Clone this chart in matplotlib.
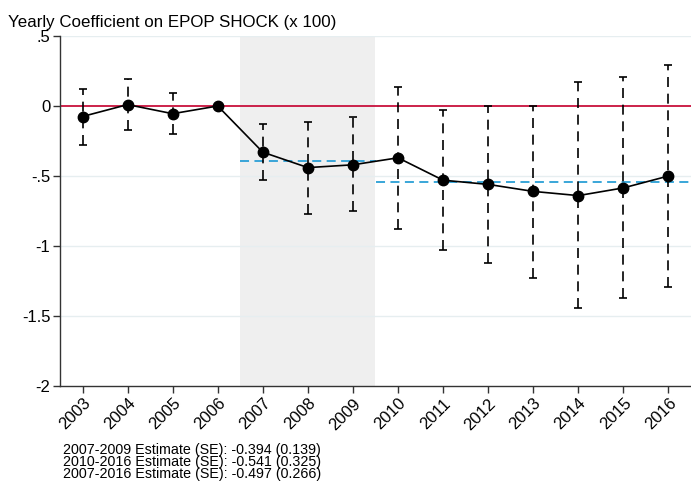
import numpy as np
import matplotlib.pyplot as plt

plt.rcParams['font.family'] = ['Liberation Sans', 'DejaVu Sans']

# data
years = [2003, 2004, 2005, 2006, 2007, 2008, 2009, 2010, 2011, 2012, 2013, 2014, 2015, 2016]
coef = [-0.075, 0.01, -0.055, 0.0, -0.33, -0.44, -0.42, -0.37, -0.53, -0.56, -0.61, -0.64, -0.585, -0.50]
ci_hi = [0.125, 0.196, 0.096, np.nan, -0.127, -0.113, -0.077, 0.137, -0.032, 0.0, 0.0, 0.17, 0.21, 0.296]
ci_lo = [-0.275, -0.17, -0.2, np.nan, -0.525, -0.77, -0.75, -0.88, -1.03, -1.12, -1.23, -1.44, -1.37, -1.29]

est_0709 = -0.394
est_1016 = -0.541
notes = ['2007-2009 Estimate (SE): -0.394 (0.139)',
         '2010-2016 Estimate (SE): -0.541 (0.325)',
         '2007-2016 Estimate (SE): -0.497 (0.266)']
yticks = [0.5, 0, -0.5, -1, -1.5, -2]
ytick_labels = ['.5', '0', '-.5', '-1', '-1.5', '-2']

coef = np.array(coef)
ci_hi = np.array(ci_hi)
ci_lo = np.array(ci_lo)

fig = plt.figure(figsize=(6.91, 4.88), dpi=100)
ax = fig.add_axes([60 / 691, 102 / 488, 631 / 691, 350 / 488])

# shaded recession window
ax.axvspan(2006.5, 2009.5, color='#efefef', lw=0, zorder=0)

# faint grid
for g in [0.5, -0.5, -1, -1.5]:
    ax.axhline(g, color='#e6eef0', lw=1, zorder=1)

ax.axhline(0, color='#c8103c', lw=1.3, zorder=2)

# period estimates
ax.hlines(est_0709, 2006.5, 2009.5, colors='#2a9fd6', linestyles=(0, (5, 3)), lw=1.3, zorder=3)
ax.hlines(est_1016, 2009.5, 2016.5, colors='#2a9fd6', linestyles=(0, (5, 3)), lw=1.3, zorder=3)

yerr = np.vstack([coef - ci_lo, ci_hi - coef])
eb = ax.errorbar(years, coef, yerr=yerr, fmt='none', ecolor='black',
                 elinewidth=1.2, capsize=3.2, capthick=1.2, zorder=4)
eb[2][0].set_linestyle((0, (6, 4)))

ax.plot(years, coef, color='black', lw=1.2, marker='o', ms=7.5, zorder=5)

ax.set_xlim(2002.5, 2016.5)
ax.set_ylim(-2, 0.5)
ax.set_xticks(years)
ax.set_xticklabels([str(y) for y in years], rotation=45, ha='right',
                   rotation_mode='anchor', fontsize=12)
ax.set_yticks(yticks)
ax.set_yticklabels(ytick_labels, fontsize=12)
ax.tick_params(direction='out', length=5, width=1, color='#333333', pad=2)

for s in ['top', 'right']:
    ax.spines[s].set_visible(False)
for s in ['left', 'bottom']:
    ax.spines[s].set_color('#333333')
    ax.spines[s].set_linewidth(1)

fig.text(8 / 691, 1 - 27 / 488, 'Yearly Coefficient on EPOP SHOCK (x 100)',
         fontsize=12.2, ha='left', va='baseline')

# three note lines as one block
fig.text(63 / 691, 1 - 462 / 488, '\n'.join(notes), fontsize=10.3,
         ha='left', va='center', linespacing=0.78)

fig.savefig('out.png', dpi=100)
